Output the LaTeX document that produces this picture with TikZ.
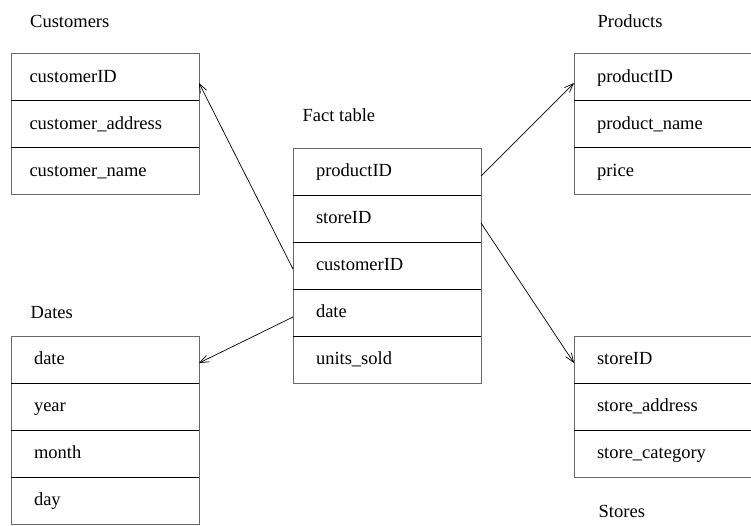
\documentclass[tikz,border=0pt]{standalone}
\usepackage{fontspec}
\setmainfont{Liberation Serif}
\usepackage{tikz}
\usetikzlibrary{arrows.meta, positioning}
\definecolor{boxgray}{RGB}{105,105,105}

\begin{document}
\begin{tikzpicture}[x=1pt, y=-1pt,
  font=\fontsize{18.5}{22}\selectfont,
  field/.style={draw=boxgray, line width=0.8pt, rectangle, minimum height=47pt, text width=142pt, inner xsep=23pt, inner ysep=0pt, align=left, text height=12pt, text depth=2pt, outer sep=0pt},
  custfield/.style={field, inner xsep=18.5pt, text width=151pt},
  caption/.style={anchor=base west, inner sep=0pt},
  divider/.style={draw=black, line width=0.8pt},
  link/.style={draw=black, line width=0.7pt, -{Straight Barb[length=9pt,width=7pt]}}]
  \clip (0,0) rectangle (751,525);

  % Customers
  \node[caption] (custtitle) at (30, 27) {Customers};
  \node[custfield] (c1) at (105, 77) {customerID};
  \node[custfield, below=0pt of c1] (c2) {customer\_address};
  \node[custfield, below=0pt of c2] (c3) {customer\_name};
  \draw[divider] (c1.south west) -- (c1.south east);
  \draw[divider] (c2.south west) -- (c2.south east);

  % Fact table
  \node[caption] (facttitle) at (302.5, 121) {Fact table};
  \node[field] (f1) at (387, 171.5) {productID};
  \node[field, below=0pt of f1] (f2) {storeID};
  \node[field, below=0pt of f2] (f3) {customerID};
  \node[field, below=0pt of f3] (f4) {date};
  \node[field, below=0pt of f4] (f5) {units\_sold};
  \draw[divider] (f1.south west) -- (f1.south east);
  \draw[divider] (f2.south west) -- (f2.south east);
  \draw[divider] (f3.south west) -- (f3.south east);
  \draw[divider] (f4.south west) -- (f4.south east);

  % Products
  \node[caption] (prodtitle) at (597.5, 27) {Products};
  \node[field] (p1) at (668, 77) {productID};
  \node[field, below=0pt of p1] (p2) {product\_name};
  \node[field, below=0pt of p2] (p3) {price};
  \draw[divider] (p1.south west) -- (p1.south east);
  \draw[divider] (p2.south west) -- (p2.south east);

  % Dates
  \node[caption] (datetitle) at (30.5, 318) {Dates};
  \node[field] (d1) at (105, 359.5) {date};
  \node[field, below=0pt of d1] (d2) {year};
  \node[field, below=0pt of d2] (d3) {month};
  \node[field, below=0pt of d3] (d4) {day};
  \draw[divider] (d1.south west) -- (d1.south east);
  \draw[divider] (d2.south west) -- (d2.south east);
  \draw[divider] (d3.south west) -- (d3.south east);

  % Stores
  \node[caption] (storetitle) at (598.5, 517) {Stores};
  \node[field] (s1) at (668, 359.5) {storeID};
  \node[field, below=0pt of s1] (s2) {store\_address};
  \node[field, below=0pt of s2] (s3) {store\_category};
  \draw[divider] (s1.south west) -- (s1.south east);
  \draw[divider] (s2.south west) -- (s2.south east);

  % Keys
  \draw[link] ([yshift=-3.5pt]f3.west) -- ([yshift=-6pt]c1.east);
  \draw[link] ([yshift=-4.5pt]f1.east) -- ([yshift=-6pt]p1.west);
  \draw[link] ([yshift=-4.5pt]f2.east) -- ([yshift=-3.5pt]s1.west);
  \draw[link] ([yshift=-4.5pt]f4.west) -- ([yshift=-3.5pt]d1.east);
\end{tikzpicture}
\end{document}
